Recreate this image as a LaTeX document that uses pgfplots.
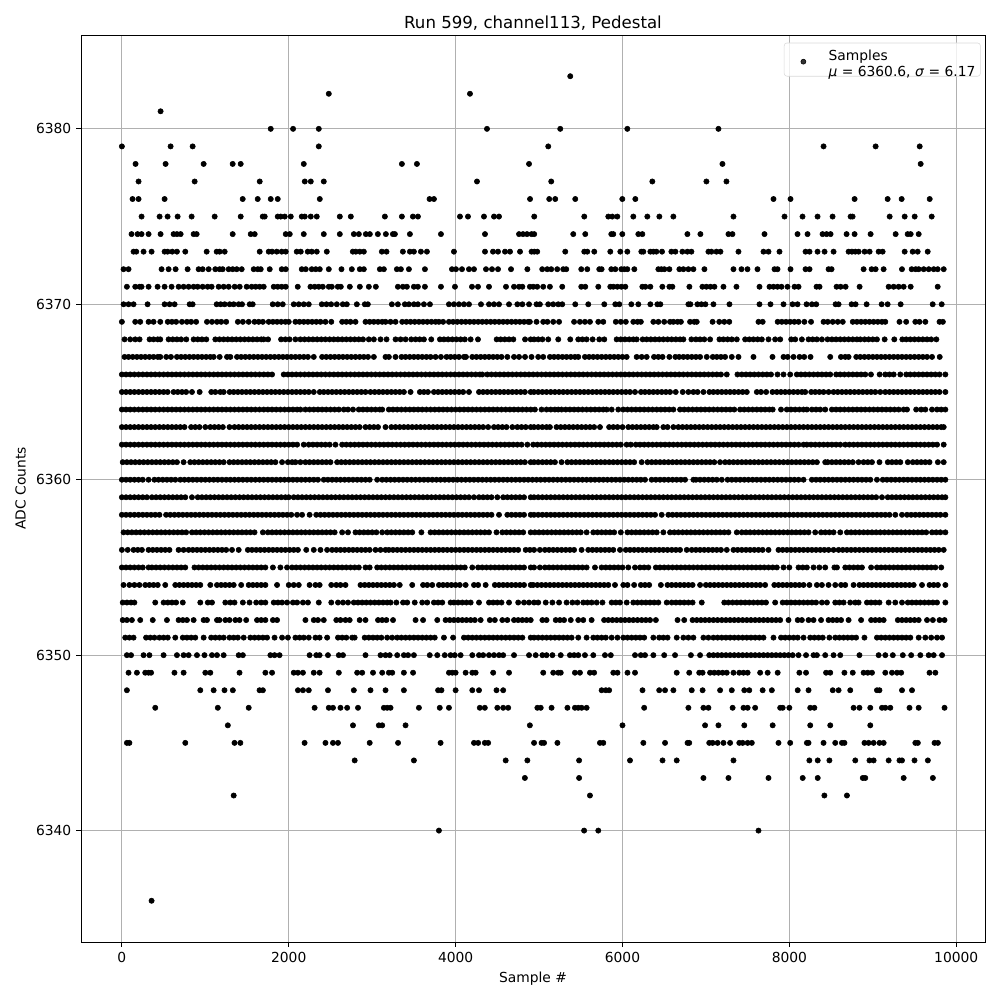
\documentclass[border=0pt]{standalone}
\usepackage{pgfplots}
\pgfplotsset{compat=1.18}
\usepackage{fontspec}
\setmainfont{DejaVu Sans}
\pgfplotsset{pt/.style={only marks,mark=*,mark size=1.9bp,color=black,mark options={draw=none,fill=black},forget plot}}
\begin{document}
\begin{tikzpicture}
\path[use as bounding box] (0,0) rectangle (720bp,720bp);
\begin{axis}[at={(58.32bp,41.76bp)},anchor=south west,scale only axis,width=650.88bp,height=653.04bp,
xmin=-490,xmax=10345,ymin=6333.65,ymax=6385.35,
xtick={0,2000,4000,6000,8000,10000},ytick={6340,6350,6360,6370,6380},
/pgf/number format/1000 sep={},/pgf/number format/assume math mode=true,
scaled ticks=false,tick pos=left,tick align=outside,major tick length=3.5bp,
every tick/.style={black,line width=0.7bp},axis line style={line width=0.7bp,black},
grid=major,grid style={color=black!31,line width=0.7bp},
tick label style={font=\fontsize{10}{12}\selectfont},
label style={font=\fontsize{10}{12}\selectfont},
xlabel={Sample \#},ylabel={ADC Counts},
xlabel style={yshift=0bp},ylabel style={yshift=0.5bp},
title={Run 599, channel113, Pedestal},title style={font=\fontsize{12}{14}\selectfont,yshift=-6bp},
legend cell align=left,
legend style={at={(0.9952,0.9915)},anchor=north east,draw=black!15,rounded corners=2pt,fill=white,fill opacity=0.8,text opacity=1,font=\fontsize{10}{12}\selectfont,inner xsep=3.6bp,inner ysep=4bp,nodes={inner sep=0pt}}]
\addlegendimage{legend image code/.code={\path (-10bp,0) (18bp,0);\fill[black] (0,-1.5bp) circle (1.8bp);}}
\addlegendentry{\begin{tabular}{@{}l@{}}Samples\\\textit{μ} = 6360.6, \textit{σ} = 6.17\end{tabular}}
\addplot[pt] coordinates {(5374,6383)(2480,6382)(4172,6382)(464,6381)(1784,6380)(2052,6380)(2360,6380)(4376,6380)(5254,6380)(6058,6380)(7150,6380)(0,6379)(584,6379)(848,6379)(2360,6379)(5110,6379)(8410,6379)(9034,6379)(9562,6379)
(164,6378)(524,6378)(980,6378)(1328,6378)(1424,6378)(2180,6378)(3356,6378)(3536,6378)(4880,6378)(7198,6378)(9574,6378)
(200,6377)(872,6377)(1652,6377)(2192,6377)(2264,6377)(2420,6377)(4256,6377)(5146,6377)(6358,6377)(7006,6377)(7246,6377)
(128,6376)(200,6376)(512,6376)(1448,6376)(1628,6376)(1784,6376)(1868,6376)(2372,6376)(3688,6376)(3740,6376)(4892,6376)(5122,6376)(5194,6376)(5434,6376)(5998,6376)(6154,6376)(7810,6376)(8014,6376)(8782,6376)(9178,6376)(9346,6376)(9682,6376)};
\addplot[pt] table[y expr=6375] {
236
452
548
668
836
1112
1424
1688
1712
1868
1904
1952
2024
2156
2192
2264
2336
2612
2744
3152
3356
3488
3548
4052
4148
4340
4460
4520
4942
5542
5830
5878
5938
6130
6298
6442
6610
7330
7942
8158
8338
8518
8734
8758
9202
9382
9502
9706
};
\addplot[pt] table[y expr=6374] {
116
188
236
320
464
620
660
704
860
896
1328
1544
1592
1964
2012
2180
2420
2612
2780
2840
2924
2972
3068
3164
3248
3272
3452
3824
4352
4760
4808
4856
4910
4942
5410
5554
5866
5890
5998
6190
6238
6778
6934
7270
7318
7702
8098
8218
8398
8446
8494
8686
8782
8974
9274
9418
9454
9550
};
\addplot[pt] table[y expr=6373] {
140
172
260
356
512
548
604
660
760
1016
1136
1172
1232
1652
1760
1800
1856
1916
1964
2096
2144
2228
2276
2336
2456
2768
2804
2852
2900
3116
3172
3368
3452
3500
3584
3656
3980
4352
4448
4508
4592
4652
4772
4910
4942
4978
5314
5542
5578
5662
5854
5974
6058
6226
6250
6334
6370
6406
6474
6586
6634
6718
6778
6826
7030
7066
7126
7174
7390
7690
7750
7882
8194
8242
8338
8422
8530
8710
8750
8790
8830
8902
8962
9070
9118
9382
9478
9538
9658
};
\addplot[pt] table[y expr=6372] {
20
80
476
560
644
788
920
968
1040
1120
1172
1208
1280
1328
1376
1436
1580
1628
1664
1772
1916
1964
2156
2204
2276
2324
2372
2480
2632
2756
2852
2900
3092
3140
3296
3344
3440
3632
3956
4004
4076
4160
4220
4364
4436
4508
4664
4860
5038
5098
5146
5218
5290
5326
5506
5578
5722
5750
5866
5914
5986
6022
6058
6142
6430
6466
6502
6562
6682
6730
6790
6850
6982
7330
7426
7498
7618
7822
7858
8014
8194
8242
8470
8506
8890
8986
9034
9130
9350
9466
9514
9550
9610
9670
9730
9778
9850
};
\addplot[pt] table[y expr=6371] {
60
160
212
236
320
428
512
596
680
740
800
860
908
968
1028
1076
1160
1220
1280
1352
1412
1496
1556
1604
1652
1700
1820
1868
1916
1964
2108
2260
2312
2360
2408
2480
2516
2588
2624
2732
2852
2960
3044
3308
3368
3416
3500
3548
3632
3824
3992
4196
4268
4400
4604
4700
4760
4800
4890
4930
4978
5050
5130
5278
5506
5554
5710
5854
5890
5938
5986
6034
6238
6274
6334
6478
6562
6598
6802
6958
7006
7054
7102
7210
7366
7642
7762
7810
7858
7906
7978
8062
8110
8326
8362
8566
8614
8674
8842
9190
9250
9310
9370
9454
9778
};
\addplot[pt] table[y expr=6370] {
20
80
140
308
512
572
632
812
848
1136
1184
1232
1292
1340
1400
1440
1532
1568
1808
1868
1928
2060
2120
2180
2240
2396
2452
2508
2576
2648
2696
2816
2912
2948
3236
3308
3392
3440
3500
3548
3620
3692
3920
3980
4040
4100
4160
4304
4400
4460
4520
4640
4740
4800
4880
4970
5010
5110
5170
5230
5278
5434
5590
5782
5914
5962
6106
6190
6334
6418
6454
6790
6814
6898
6946
6994
7090
7282
7642
7774
7930
8038
8098
8206
8270
8322
8554
8590
8746
8794
8926
9106
9178
9334
9718
9826
};
\addplot[pt] table[y expr=6369] {
0
160
220
320
380
460
550
600
650
720
780
830
890
1020
1080
1140
1190
1250
1390
1450
1520
1590
1640
1690
1760
1810
1860
1910
1960
2000
2080
2130
2180
2230
2280
2330
2380
2440
2510
2640
2690
2740
2800
2920
2970
3020
3070
3120
3160
3220
3280
3360
3410
3460
3510
3560
3610
3660
3710
3760
3800
3850
3920
3970
4020
4070
4120
4170
4220
4270
4320
4370
4420
4470
4520
4570
4620
4670
4720
4770
4820
4870
4890
4970
5050
5100
5170
5240
5420
5490
5550
5610
5710
5770
5920
5980
6040
6130
6180
6220
6370
6430
6500
6570
6610
6660
6700
6810
6860
6890
7080
7160
7220
7280
7630
7680
7860
7910
7960
8010
8060
8110
8180
8260
8410
8460
8520
8580
8640
8760
8810
8860
8910
8960
9010
9060
9110
9150
9320
9400
9510
9560
9630
9800
9840
};
\addplot[pt] table[y expr=6368] {
32
100
160
212
332
380
430
460
560
610
660
710
772
860
910
960
1012
1120
1170
1220
1270
1320
1370
1420
1470
1520
1570
1620
1670
1700
1752
1908
1960
2010
2080
2140
2190
2240
2290
2340
2390
2440
2490
2540
2590
2640
2690
2740
2790
2840
2890
2960
3020
3100
3172
3280
3340
3400
3468
3520
3570
3620
3708
3812
3860
3910
3960
4010
4060
4110
4180
4268
4492
4540
4590
4640
4692
4832
4900
4940
4990
5040
5110
5230
5374
5470
5520
5570
5642
5722
5782
5930
5980
6030
6080
6130
6170
6242
6290
6340
6390
6440
6490
6540
6590
6640
6690
6730
6826
6880
6930
6980
7050
7162
7210
7260
7310
7370
7470
7520
7570
7620
7670
7750
7830
7890
8022
8070
8150
8230
8280
8330
8390
8458
8510
8560
8610
8660
8710
8760
8810
8850
8902
8950
9000
9050
9142
9258
9354
9400
9450
9500
9550
9600
9650
9700
9762
};
\addplot[pt] table[y expr=6367] {
32
80
130
180
230
280
330
380
430
460
532
588
660
710
760
810
860
910
960
1010
1060
1100
1172
1260
1300
1380
1430
1480
1530
1580
1630
1680
1730
1780
1830
1880
1930
1980
2030
2080
2130
2180
2230
2300
2400
2450
2500
2550
2600
2650
2700
2750
2800
2850
2900
2950
3020
3160
3200
3280
3352
3400
3450
3500
3550
3600
3650
3700
3760
3824
3892
3940
3990
4040
4100
4124
4200
4250
4300
4350
4400
4450
4500
4550
4620
4700
4760
4832
4910
4990
5050
5130
5180
5230
5280
5330
5380
5430
5470
5550
5600
5650
5700
5750
5800
5850
5900
5950
6000
6050
6170
6230
6290
6378
6430
6480
6562
6634
6680
6730
6780
6830
6880
6930
7010
7082
7130
7180
7230
7310
7390
7570
7798
7930
7980
8050
8122
8178
8254
8490
8618
8670
8710
8802
8850
8900
8950
9000
9050
9100
9150
9200
9250
9300
9350
9400
9450
9500
9550
9600
9650
9710
9802
};
\addplot[pt] table[y expr=6366] {
0
50
100
150
200
250
300
350
400
450
500
550
600
650
700
750
800
850
900
950
1000
1050
1100
1150
1200
1250
1300
1350
1400
1450
1500
1550
1600
1650
1700
1750
1800
1940
1990
2040
2090
2140
2190
2240
2290
2340
2390
2440
2490
2540
2590
2640
2690
2740
2790
2840
2890
2940
2990
3040
3090
3140
3190
3240
3290
3340
3390
3440
3490
3540
3590
3640
3690
3740
3790
3840
3890
3940
3990
4040
4090
4140
4190
4240
4290
4320
4380
4430
4480
4530
4580
4630
4680
4730
4780
4830
4880
4930
4980
5030
5080
5130
5180
5230
5280
5330
5380
5430
5480
5530
5580
5630
5680
5730
5780
5830
5880
5930
5980
6030
6080
6130
6180
6230
6280
6330
6380
6430
6480
6530
6580
6630
6680
6730
6780
6830
6880
6930
6980
7030
7080
7130
7180
7250
7378
7430
7480
7530
7580
7630
7680
7730
7780
7858
7930
8010
8090
8140
8190
8240
8290
8340
8390
8440
8490
8562
8610
8660
8710
8760
8810
8860
8910
8978
9082
9150
9200
9250
9330
9402
9450
9500
9550
9600
9650
9700
9750
9800
9870
};
\addplot[pt] table[y expr=6365] {
0
50
100
150
200
250
300
350
400
450
500
548
620
670
720
770
840
932
1072
1120
1180
1220
1292
1340
1390
1440
1490
1540
1590
1640
1690
1740
1790
1840
1890
1940
1990
2040
2090
2140
2190
2240
2300
2372
2420
2470
2520
2570
2620
2670
2720
2770
2820
2870
2920
2980
3030
3080
3130
3180
3230
3280
3330
3380
3460
3572
3620
3668
3740
3790
3840
3890
3940
3990
4040
4090
4160
4280
4330
4380
4430
4480
4530
4580
4630
4680
4730
4780
4830
4900
4940
4990
5040
5090
5140
5190
5240
5290
5340
5390
5440
5490
5540
5590
5640
5690
5740
5790
5840
5890
5940
5990
6040
6090
6150
6222
6270
6320
6370
6420
6470
6520
6570
6638
6722
6790
6850
6900
6970
7042
7090
7140
7190
7240
7290
7340
7390
7440
7490
7610
7660
7722
7798
7850
7900
7950
8000
8050
8100
8150
8190
8262
8310
8360
8410
8470
8530
8580
8630
8680
8730
8780
8830
8880
8930
8980
9030
9090
9150
9200
9250
9300
9350
9400
9450
9500
9550
9600
9650
9700
9750
9800
9870
};
\addplot[pt] table[y expr=6364] {
0
50
100
150
200
250
300
350
400
450
500
550
600
650
700
750
800
850
900
950
1000
1050
1100
1150
1200
1250
1300
1350
1400
1450
1500
1550
1600
1650
1700
1750
1800
1850
1900
1950
2000
2050
2100
2140
2200
2250
2300
2350
2400
2450
2500
2550
2600
2660
2710
2770
2840
2890
2940
2990
3040
3090
3120
3200
3250
3300
3350
3400
3450
3500
3550
3600
3650
3700
3750
3800
3850
3900
3950
4000
4050
4100
4150
4200
4250
4300
4350
4400
4450
4500
4550
4600
4650
4700
4750
4800
4850
4900
4950
5030
5090
5140
5190
5230
5270
5320
5370
5420
5470
5520
5570
5620
5670
5720
5770
5810
5870
5950
6010
6060
6110
6160
6210
6260
6310
6360
6410
6460
6510
6560
6610
6690
6740
6790
6840
6890
6940
6990
7040
7090
7140
7190
7240
7290
7340
7410
7460
7510
7560
7610
7660
7710
7760
7800
7900
7970
8020
8070
8120
8170
8210
8270
8320
8370
8430
8510
8560
8610
8660
8710
8760
8810
8860
8910
8960
9010
9060
9110
9160
9210
9260
9310
9370
9410
9520
9580
9630
9710
9770
9820
9870
};
\addplot[pt] table[y expr=6363] {
0
50
100
150
200
250
300
350
400
450
500
550
600
650
700
750
830
880
930
1000
1060
1110
1160
1210
1290
1350
1400
1450
1500
1550
1600
1650
1700
1750
1800
1850
1900
1950
2000
2050
2100
2150
2200
2250
2300
2350
2400
2450
2500
2550
2600
2650
2700
2750
2800
2850
2920
2970
3020
3070
3160
3230
3280
3330
3380
3430
3480
3530
3580
3630
3680
3730
3780
3830
3880
3930
3980
4030
4080
4130
4180
4230
4280
4330
4390
4460
4510
4560
4610
4680
4740
4790
4840
4900
4940
4990
5040
5090
5130
5210
5260
5310
5360
5410
5460
5510
5560
5610
5660
5730
5840
5890
5940
6000
6070
6120
6170
6220
6270
6320
6370
6410
6490
6540
6610
6670
6720
6770
6820
6870
6920
6970
7020
7070
7120
7170
7220
7270
7320
7370
7420
7470
7520
7570
7620
7670
7720
7770
7820
7870
7920
7970
8020
8070
8120
8170
8220
8270
8320
8370
8420
8470
8520
8570
8620
8670
8720
8770
8820
8870
8920
8970
9020
9070
9120
9170
9220
9270
9320
9370
9420
9470
9520
9570
9620
9670
9720
9770
9820
9850
};
\addplot[pt] table[y expr=6362] {
0
50
100
150
200
250
300
350
400
450
500
550
600
650
700
750
800
850
900
950
1000
1050
1100
1150
1200
1250
1300
1350
1400
1450
1500
1550
1600
1650
1700
1750
1800
1850
1900
1950
2000
2050
2100
2180
2240
2290
2340
2390
2440
2490
2560
2640
2690
2740
2790
2840
2890
2940
2990
3040
3090
3140
3190
3240
3290
3340
3390
3440
3490
3540
3590
3640
3690
3740
3790
3840
3890
3940
3990
4040
4090
4140
4190
4240
4290
4340
4390
4440
4490
4540
4590
4640
4690
4740
4790
4860
4930
4980
5030
5080
5130
5180
5230
5280
5330
5380
5430
5480
5530
5580
5630
5680
5730
5780
5830
5880
5930
5980
6050
6100
6160
6210
6260
6310
6360
6410
6460
6510
6560
6610
6660
6710
6760
6810
6860
6910
6960
7010
7060
7110
7160
7210
7260
7310
7360
7410
7460
7510
7560
7610
7660
7710
7760
7810
7860
7910
7960
8010
8060
8110
8170
8210
8260
8310
8360
8410
8460
8510
8560
8610
8670
8720
8770
8820
8870
8920
8970
9020
9070
9120
9170
9220
9270
9320
9370
9420
9470
9520
9570
9620
9670
9720
9770
9850
};
\addplot[pt] table[y expr=6361] {
10
60
110
160
210
260
310
360
410
460
510
560
610
660
740
820
870
920
970
1020
1070
1120
1170
1220
1290
1340
1390
1440
1490
1540
1590
1640
1690
1740
1790
1840
1920
1990
2040
2080
2140
2200
2250
2300
2350
2400
2450
2500
2580
2630
2680
2730
2780
2830
2880
2930
2980
3030
3080
3130
3180
3230
3280
3330
3380
3430
3480
3530
3580
3630
3680
3730
3780
3830
3880
3930
3980
4030
4080
4130
4180
4230
4280
4330
4380
4430
4480
4530
4580
4630
4680
4730
4780
4830
4900
4940
4990
5040
5090
5140
5190
5270
5340
5390
5440
5490
5540
5590
5640
5690
5740
5790
5840
5890
5940
5990
6040
6090
6140
6230
6300
6350
6400
6450
6500
6550
6600
6650
6700
6750
6800
6850
6900
6950
7000
7050
7100
7170
7230
7280
7330
7380
7430
7480
7530
7580
7630
7680
7730
7780
7830
7880
7930
7980
8030
8080
8130
8180
8230
8280
8330
8430
8460
8510
8560
8610
8660
8710
8760
8830
8890
8940
8990
9080
9180
9230
9280
9330
9420
9480
9530
9580
9630
9680
9780
9850
};
\addplot[pt] table[y expr=6360] {
0
50
100
150
200
250
320
390
440
490
540
590
640
700
750
800
850
900
950
1000
1050
1100
1150
1200
1250
1300
1350
1400
1450
1500
1550
1600
1650
1700
1750
1800
1850
1900
1950
2000
2050
2100
2150
2200
2250
2300
2350
2420
2470
2520
2570
2620
2670
2720
2770
2820
2870
2920
2970
3060
3120
3170
3220
3270
3320
3370
3420
3470
3520
3570
3620
3670
3720
3770
3820
3870
3920
3970
4020
4070
4120
4170
4220
4270
4320
4370
4420
4470
4520
4570
4620
4670
4720
4770
4820
4870
4920
4970
5020
5070
5120
5170
5220
5270
5320
5370
5420
5470
5520
5570
5620
5670
5720
5770
5820
5870
5920
5970
6020
6070
6120
6170
6220
6270
6350
6400
6450
6500
6550
6600
6650
6700
6750
6850
6880
6930
6980
7030
7080
7130
7190
7260
7310
7360
7410
7460
7510
7560
7610
7660
7710
7760
7810
7860
7910
7960
8010
8060
8110
8170
8270
8320
8370
8420
8470
8520
8570
8620
8670
8720
8770
8820
8870
8920
8970
9050
9120
9170
9220
9270
9320
9370
9420
9470
9520
9570
9620
9670
9720
9770
9820
9870
};
\addplot[pt] table[y expr=6359] {
0
50
100
150
200
250
300
360
410
460
510
560
610
660
710
760
840
910
960
1010
1060
1110
1160
1210
1260
1310
1360
1410
1460
1510
1560
1610
1660
1710
1760
1810
1860
1910
1960
2000
2060
2110
2160
2210
2260
2310
2360
2410
2460
2510
2560
2610
2660
2710
2760
2810
2860
2910
2960
3010
3060
3110
3160
3210
3260
3310
3360
3410
3460
3510
3560
3610
3660
3710
3760
3810
3860
3910
3960
4010
4060
4110
4160
4220
4280
4330
4380
4430
4500
4570
4620
4670
4720
4770
4820
4900
4940
4990
5040
5090
5140
5190
5240
5290
5340
5390
5440
5490
5540
5590
5640
5690
5740
5790
5840
5890
5940
5990
6040
6090
6140
6190
6240
6290
6340
6390
6440
6490
6540
6590
6640
6690
6740
6790
6840
6890
6940
6990
7040
7090
7140
7190
7240
7290
7340
7390
7440
7490
7540
7590
7640
7690
7740
7790
7840
7890
7940
7990
8040
8090
8140
8190
8240
8290
8340
8390
8440
8490
8540
8590
8640
8690
8740
8790
8840
8890
8940
8990
9040
9110
9180
9230
9280
9330
9380
9430
9480
9530
9580
9630
9680
9730
9780
9830
9870
};
\addplot[pt] table[y expr=6358] {
0
50
100
150
200
250
300
350
400
450
530
580
630
680
730
780
830
880
930
980
1030
1080
1130
1180
1230
1280
1330
1380
1430
1480
1530
1580
1630
1680
1730
1780
1830
1880
1930
1980
2030
2100
2160
2250
2330
2380
2430
2480
2530
2580
2630
2680
2730
2780
2830
2880
2930
2980
3030
3080
3130
3180
3230
3280
3330
3380
3430
3480
3530
3580
3630
3680
3730
3780
3830
3880
3930
3980
4030
4080
4130
4180
4230
4280
4330
4380
4430
4520
4620
4670
4720
4770
4820
4900
4940
4990
5040
5090
5140
5190
5240
5290
5340
5390
5440
5490
5540
5590
5640
5690
5740
5790
5840
5890
5940
5990
6040
6090
6140
6190
6240
6290
6340
6390
6470
6550
6600
6650
6700
6750
6800
6850
6900
6950
7000
7050
7100
7150
7200
7250
7300
7350
7400
7450
7500
7550
7600
7650
7700
7750
7800
7850
7900
7950
8000
8050
8100
8150
8200
8250
8300
8350
8400
8450
8500
8550
8600
8650
8700
8750
8800
8850
8900
8950
9000
9050
9100
9150
9200
9270
9350
9410
9460
9510
9560
9610
9660
9710
9760
9810
9870
};
\addplot[pt] table[y expr=6357] {
20
70
120
170
220
270
320
370
420
470
520
570
620
670
720
770
840
890
940
990
1040
1090
1140
1190
1240
1290
1340
1390
1440
1490
1540
1590
1690
1750
1800
1850
1900
1950
2000
2050
2100
2150
2200
2250
2300
2350
2400
2450
2500
2550
2640
2710
2800
2850
2900
2950
3000
3050
3120
3180
3230
3280
3330
3380
3430
3480
3590
3700
3750
3800
3850
3900
3950
4000
4050
4100
4150
4200
4250
4300
4350
4400
4490
4560
4610
4660
4710
4760
4810
4900
4950
5000
5050
5100
5150
5200
5250
5300
5350
5400
5450
5500
5570
5650
5700
5750
5800
5850
5900
5980
6060
6110
6160
6210
6260
6310
6360
6410
6490
6570
6620
6670
6720
6770
6820
6870
6920
6970
7020
7070
7120
7170
7220
7270
7370
7430
7480
7530
7580
7630
7680
7730
7780
7830
7880
7930
7980
8030
8080
8130
8180
8230
8310
8380
8430
8480
8530
8610
8690
8740
8790
8840
8890
8940
8990
9040
9090
9140
9190
9240
9290
9340
9390
9440
9490
9540
9590
9640
9710
9760
9810
9870
};
\addplot[pt] table[y expr=6356] {
0
70
140
190
240
320
370
420
470
520
570
680
740
800
850
900
950
1000
1050
1100
1150
1200
1250
1320
1400
1510
1560
1610
1660
1710
1760
1810
1860
1910
1960
2010
2060
2110
2210
2300
2380
2460
2520
2570
2620
2670
2720
2770
2820
2870
2920
2970
3040
3100
3160
3200
3250
3300
3350
3400
3450
3500
3550
3600
3650
3700
3750
3800
3850
3900
3950
4000
4050
4100
4150
4200
4250
4300
4350
4400
4450
4500
4550
4600
4650
4700
4750
4840
4890
4940
5010
5070
5120
5170
5220
5270
5320
5370
5420
5510
5590
5640
5690
5740
5790
5840
5890
5970
6040
6090
6140
6190
6240
6290
6340
6390
6440
6490
6540
6590
6640
6690
6770
6830
6880
6930
6980
7030
7080
7130
7180
7250
7330
7380
7430
7480
7530
7580
7630
7680
7750
7870
7920
7970
8020
8070
8120
8170
8220
8270
8320
8370
8420
8470
8530
8590
8640
8690
8740
8790
8840
8890
8940
8990
9040
9090
9140
9190
9240
9290
9340
9390
9440
9490
9540
9590
9640
9690
9740
9790
9850
};
\addplot[pt] table[y expr=6355] {
0
50
100
150
200
250
320
360
410
460
510
560
610
660
710
760
870
920
970
1020
1070
1120
1170
1220
1270
1320
1370
1420
1470
1520
1570
1620
1670
1720
1810
1900
1980
2040
2090
2140
2190
2240
2290
2340
2390
2440
2490
2540
2590
2640
2690
2740
2790
2840
2920
2970
3060
3110
3160
3210
3260
3310
3360
3410
3460
3510
3560
3610
3660
3710
3760
3810
3860
3910
3960
4010
4060
4110
4200
4270
4320
4370
4420
4470
4520
4570
4620
4670
4720
4770
4820
4900
4940
5010
5070
5120
5170
5220
5270
5320
5370
5420
5470
5520
5570
5670
5750
5800
5850
5900
5950
6000
6070
6150
6210
6260
6310
6400
6450
6500
6550
6600
6650
6700
6750
6800
6850
6900
6950
7000
7050
7100
7150
7200
7250
7300
7350
7400
7450
7500
7550
7600
7650
7700
7750
7800
7850
7930
8000
8110
8160
8210
8290
8360
8430
8540
8570
8670
8720
8770
8820
8870
8980
9050
9100
9150
9200
9250
9300
9350
9400
9450
9500
9550
9600
9650
9700
9750
9820
};
\addplot[pt] table[y expr=6354] {
20
90
150
210
280
330
380
430
520
640
690
740
790
840
890
940
1060
1140
1190
1240
1290
1340
1430
1520
1570
1620
1670
1720
1860
2000
2060
2120
2250
2320
2370
2510
2570
2620
2680
2860
2910
2960
3010
3060
3110
3160
3210
3260
3330
3480
3610
3660
3720
3800
3850
3900
3950
4000
4050
4120
4220
4270
4360
4470
4520
4570
4620
4670
4720
4770
4820
4900
4930
4980
5030
5080
5130
5180
5230
5280
5330
5380
5430
5480
5530
5580
5630
5680
5730
5780
5830
5910
6010
6060
6140
6220
6270
6320
6460
6540
6590
6640
6690
6740
6790
6840
6930
7000
7050
7100
7150
7200
7250
7300
7350
7400
7450
7500
7550
7600
7650
7710
7820
7870
7920
7970
8020
8070
8120
8170
8240
8330
8390
8470
8550
8620
8670
8770
8840
8890
8940
8990
9040
9090
9140
9190
9240
9290
9340
9390
9440
9490
9590
9680
9730
9780
9870
};
\addplot[pt] table[y expr=6353] {
10
60
110
150
400
500
550
600
650
730
940
1030
1080
1240
1300
1350
1450
1530
1610
1670
1720
1820
1870
1920
1980
2050
2100
2170
2230
2360
2510
2590
2650
2710
2780
2830
2880
2930
2980
3030
3080
3130
3180
3220
3290
3370
3420
3510
3600
3660
3740
3790
3840
3940
3980
4030
4080
4130
4180
4280
4400
4450
4500
4550
4640
4750
4820
4880
4940
4990
5080
5160
5240
5330
5400
5460
5530
5580
5630
5690
5760
5870
5920
5970
6050
6130
6180
6230
6280
6330
6380
6430
6530
6590
6640
6690
6740
6790
6840
6950
7220
7270
7320
7370
7420
7470
7520
7570
7620
7670
7720
7830
7920
7970
8020
8070
8120
8170
8220
8270
8320
8390
8450
8550
8600
8650
8730
8790
8830
8930
8980
9030
9080
9190
9270
9350
9420
9470
9520
9570
9620
9670
9720
9770
9870
};
\addplot[pt] table[y expr=6352] {
10
60
120
220
370
540
680
730
780
860
980
1020
1140
1170
1240
1290
1360
1410
1490
1620
1670
1720
1810
1860
2200
2300
2350
2420
2570
2620
2680
2730
2850
2920
3070
3120
3170
3250
3520
3610
3780
3880
3930
3980
4030
4080
4130
4180
4230
4300
4410
4470
4560
4620
4700
4750
4800
4850
4900
5040
5090
5200
5250
5300
5380
5470
5530
5630
5780
5830
5880
5930
5980
6030
6080
6130
6180
6230
6280
6330
6400
6660
6740
6840
6890
6940
6990
7040
7090
7140
7190
7240
7290
7340
7390
7440
7490
7540
7590
7640
7690
7740
7790
7840
7890
7990
8100
8150
8230
8290
8380
8470
8520
8570
8620
8710
8860
8980
9030
9080
9130
9300
9350
9400
9450
9500
9550
9650
9720
9800
9860
};
\addplot[pt] table[y expr=6351] {
40
90
140
290
340
390
450
500
550
640
730
780
830
880
980
1070
1120
1170
1220
1290
1340
1390
1460
1540
1590
1640
1690
1740
1830
1920
1990
2080
2130
2180
2240
2320
2370
2460
2590
2640
2690
2760
2790
2910
2960
3010
3060
3110
3180
3240
3300
3350
3400
3450
3500
3550
3600
3650
3700
3750
3860
3970
4100
4150
4200
4250
4300
4350
4400
4450
4500
4550
4600
4650
4700
4750
4800
4900
4940
4990
5040
5090
5140
5190
5240
5290
5340
5390
5470
5570
5650
5700
5750
5800
5870
5940
6010
6060
6110
6160
6210
6260
6370
6440
6490
6540
6650
6730
6790
6850
6970
7030
7090
7140
7190
7240
7290
7340
7390
7440
7490
7540
7590
7640
7690
7810
7900
7950
8000
8050
8100
8170
8250
8300
8350
8400
8480
8550
8600
8650
8700
8750
8800
8900
9050
9100
9150
9200
9250
9300
9350
9400
9450
9550
9630
9700
9770
9830
};
\addplot[pt] table[y expr=6350] {
60
110
260
330
500
660
740
800
900
990
1080
1140
1220
1400
1450
1780
1830
1890
2250
2330
2370
2470
2600
2650
2920
3100
3160
3210
3300
3380
3430
3500
3690
3780
3870
3940
3990
4060
4200
4280
4330
4400
4460
4520
4570
4700
4880
4960
5040
5090
5160
5260
5370
5420
5470
5550
5650
5790
5860
6150
6220
6270
6370
6500
6630
6820
6930
7040
7090
7140
7190
7240
7290
7340
7390
7440
7490
7540
7590
7640
7690
7740
7790
7840
7890
7940
7990
8040
8110
8200
8290
8330
8430
8530
8610
8840
9070
9150
9240
9360
9460
9570
9670
9730
9830
};
\addplot[pt] table[y expr=6349] {
80
180
280
320
350
630
740
1000
1060
1410
1720
1800
2060
2110
2170
2300
2370
2600
2820
2880
3010
3120
3200
3240
3380
3490
3920
3960
4000
4120
4200
4240
4450
4640
5050
5170
5230
5260
5430
5490
5610
5660
5890
5940
6060
6150
6650
6800
6920
6960
7050
7100
7150
7200
7250
7330
7400
7450
7500
7650
7740
7860
8120
8200
8440
8490
8660
8760
8890
8940
8990
9150
9230
9290
9340
9680
9750
};
\addplot[pt] table[y expr=6348] {
60
940
1100
1230
1330
1650
1690
2110
2170
2240
2470
2780
2980
3160
3380
3790
3830
4000
4200
4280
4490
4570
5750
5800
5840
6240
6440
6510
6610
6830
6960
7170
7310
7460
7520
7680
7790
8100
8230
8520
8590
8730
9050
9080
9350
9470
};
\addplot[pt] table[y expr=6347] {
400
1150
1520
2310
2480
2530
2620
2700
2830
3140
3180
3220
3560
3810
3920
4290
4350
4500
4570
4630
4980
5020
5150
5340
5430
5470
5510
5570
6260
6790
6970
7030
7320
7450
7500
7590
7890
7920
8000
8250
8300
8770
8840
8970
9110
9150
9210
9440
9550
9860
};
\addplot[pt] table[y expr=6346] {
1270
2770
3080
3120
3400
4890
6000
6990
7150
7460
7800
8250
8490
8970
};
\addplot[pt] table[y expr=6345] {
60
90
760
1350
1420
2190
2440
2530
2590
2970
3310
3820
4220
4270
4350
4390
4940
5030
5060
5220
5730
5770
6250
6510
6780
6800
7040
7080
7140
7210
7290
7400
7440
7500
7550
7870
8010
8210
8230
8410
8550
8630
8660
8900
8950
9010
9080
9130
9510
9540
9740
9780
};
\addplot[pt] coordinates {(2790,6344)(3500,6344)(4600,6344)(4860,6344)(5480,6344)(6090,6344)(6480,6344)(6650,6344)(7330,6344)(8240,6344)(8340,6344)(8480,6344)(8790,6344)(8960,6344)(9010,6344)(9190,6344)(9320,6344)(9350,6344)(9500,6344)(9660,6344)
(4830,6343)(5480,6343)(6970,6343)(7270,6343)(7750,6343)(8160,6343)(8340,6343)(8880,6343)(8910,6343)(9370,6343)(9720,6343)
(1340,6342)(5610,6342)(8420,6342)(8690,6342)
(3800,6340)(5540,6340)(5710,6340)(7630,6340)
(356,6336)};
\end{axis}
\end{tikzpicture}
\end{document}
